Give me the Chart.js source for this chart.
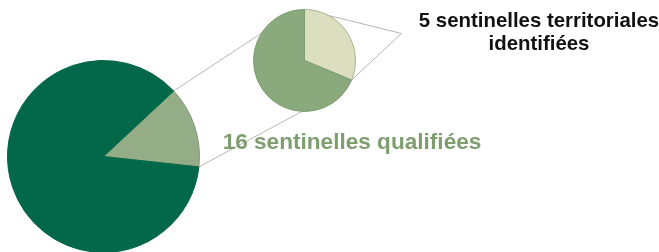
<!DOCTYPE html>
<html>
<head>
<meta charset="utf-8">
<script src="https://cdn.jsdelivr.net/npm/chart.js@4/dist/chart.umd.min.js"></script>
<style>
  html, body { margin:0; padding:0; width:659px; height:252px; overflow:hidden; background:#fff; }
  canvas { position:absolute; left:0; top:0; }
  .lbl { position:absolute; font-family:"Liberation Sans", Arial, sans-serif; font-weight:bold; text-align:center; white-space:nowrap; }
  #t1 { left:389px; top:9px; width:300px; font-size:20.4px; line-height:23px; color:#111; }
  #t2 { left:152px; top:129px; width:400px; font-size:22.6px; line-height:26px; color:#7e9e70; }
</style>
</head>
<body>
<canvas id="big" width="659" height="260"></canvas>
<canvas id="small" width="659" height="260"></canvas>
<div class="lbl" id="t1">5 sentinelles territoriales<br>identifiées</div>
<div class="lbl" id="t2">16 sentinelles qualifiées</div>
<script>
// ---- data ----
const bigLabels = ["Sentinelles qualifiées", "Autres"];
const bigValues = [16, 101];
const smallLabels = ["Sentinelles territoriales identifiées", "Autres sentinelles qualifiées"];
const smallValues = [5, 11];

const bigColors = ["#95ad87", "#03674a"];
const smallColors = ["#dcdfbf", "#8aaa7d"];

const common = {
  responsive: false,
  animation: false,
  events: [],
  plugins: { legend: { display: false }, tooltip: { enabled: false } }
};

const bigChart = new Chart(document.getElementById('big'), {
  type: 'pie',
  data: { labels: bigLabels, datasets: [{ data: bigValues, backgroundColor: bigColors, borderColor: ["#7f9a72", "#03674a"], borderWidth: 1 }] },
  options: Object.assign({}, common, {
    rotation: 47,
    layout: { padding: { left: 7, top: 60, right: 459, bottom: 7 } }
  })
});

const connectors = {
  id: 'connectors',
  beforeDatasetsDraw(chart) {
    const ctx = chart.ctx;
    const bArc = bigChart.getDatasetMeta(0).data[0];
    const sMeta = chart.getDatasetMeta(0).data;
    const s0 = sMeta[0];
    const cx = s0.x, cy = s0.y, r = s0.outerRadius;
    const pt = (a, x, y, rr) => [x + rr * Math.cos(a), y + rr * Math.sin(a)];
    const b1 = pt(bArc.startAngle, bArc.x, bArc.y, bArc.outerRadius);
    const b2 = pt(bArc.endAngle, bArc.x, bArc.y, bArc.outerRadius);
    const deg = Math.PI / 180;
    const u = pt(215 * deg, cx, cy, r - 1);
    const l = pt(91 * deg, cx, cy, r - 1);
    const s1 = pt(s0.startAngle, cx, cy, r);
    const s2 = pt(s0.endAngle, cx, cy, r);
    const apex = [cx + r * 1.9, cy - r * 0.53];
    ctx.save();
    ctx.strokeStyle = '#b4b8b0';
    ctx.lineWidth = 1;
    ctx.beginPath();
    ctx.moveTo(b1[0], b1[1]); ctx.lineTo(u[0], u[1]);
    ctx.moveTo(b2[0], b2[1]); ctx.lineTo(l[0], l[1]);
    ctx.moveTo(s1[0], s1[1]); ctx.lineTo(apex[0], apex[1]); ctx.lineTo(s2[0], s2[1]);
    ctx.stroke();
    ctx.restore();
  }
};

const smallChart = new Chart(document.getElementById('small'), {
  type: 'pie',
  data: { labels: smallLabels, datasets: [{ data: smallValues, backgroundColor: smallColors, borderColor: ["#a9b294", "#7f9c72"], borderWidth: 1 }] },
  options: Object.assign({}, common, {
    rotation: 0,
    layout: { padding: { left: 253, top: 9, right: 303, bottom: 148 } }
  }),
  plugins: [connectors]
});
</script>
</body>
</html>
